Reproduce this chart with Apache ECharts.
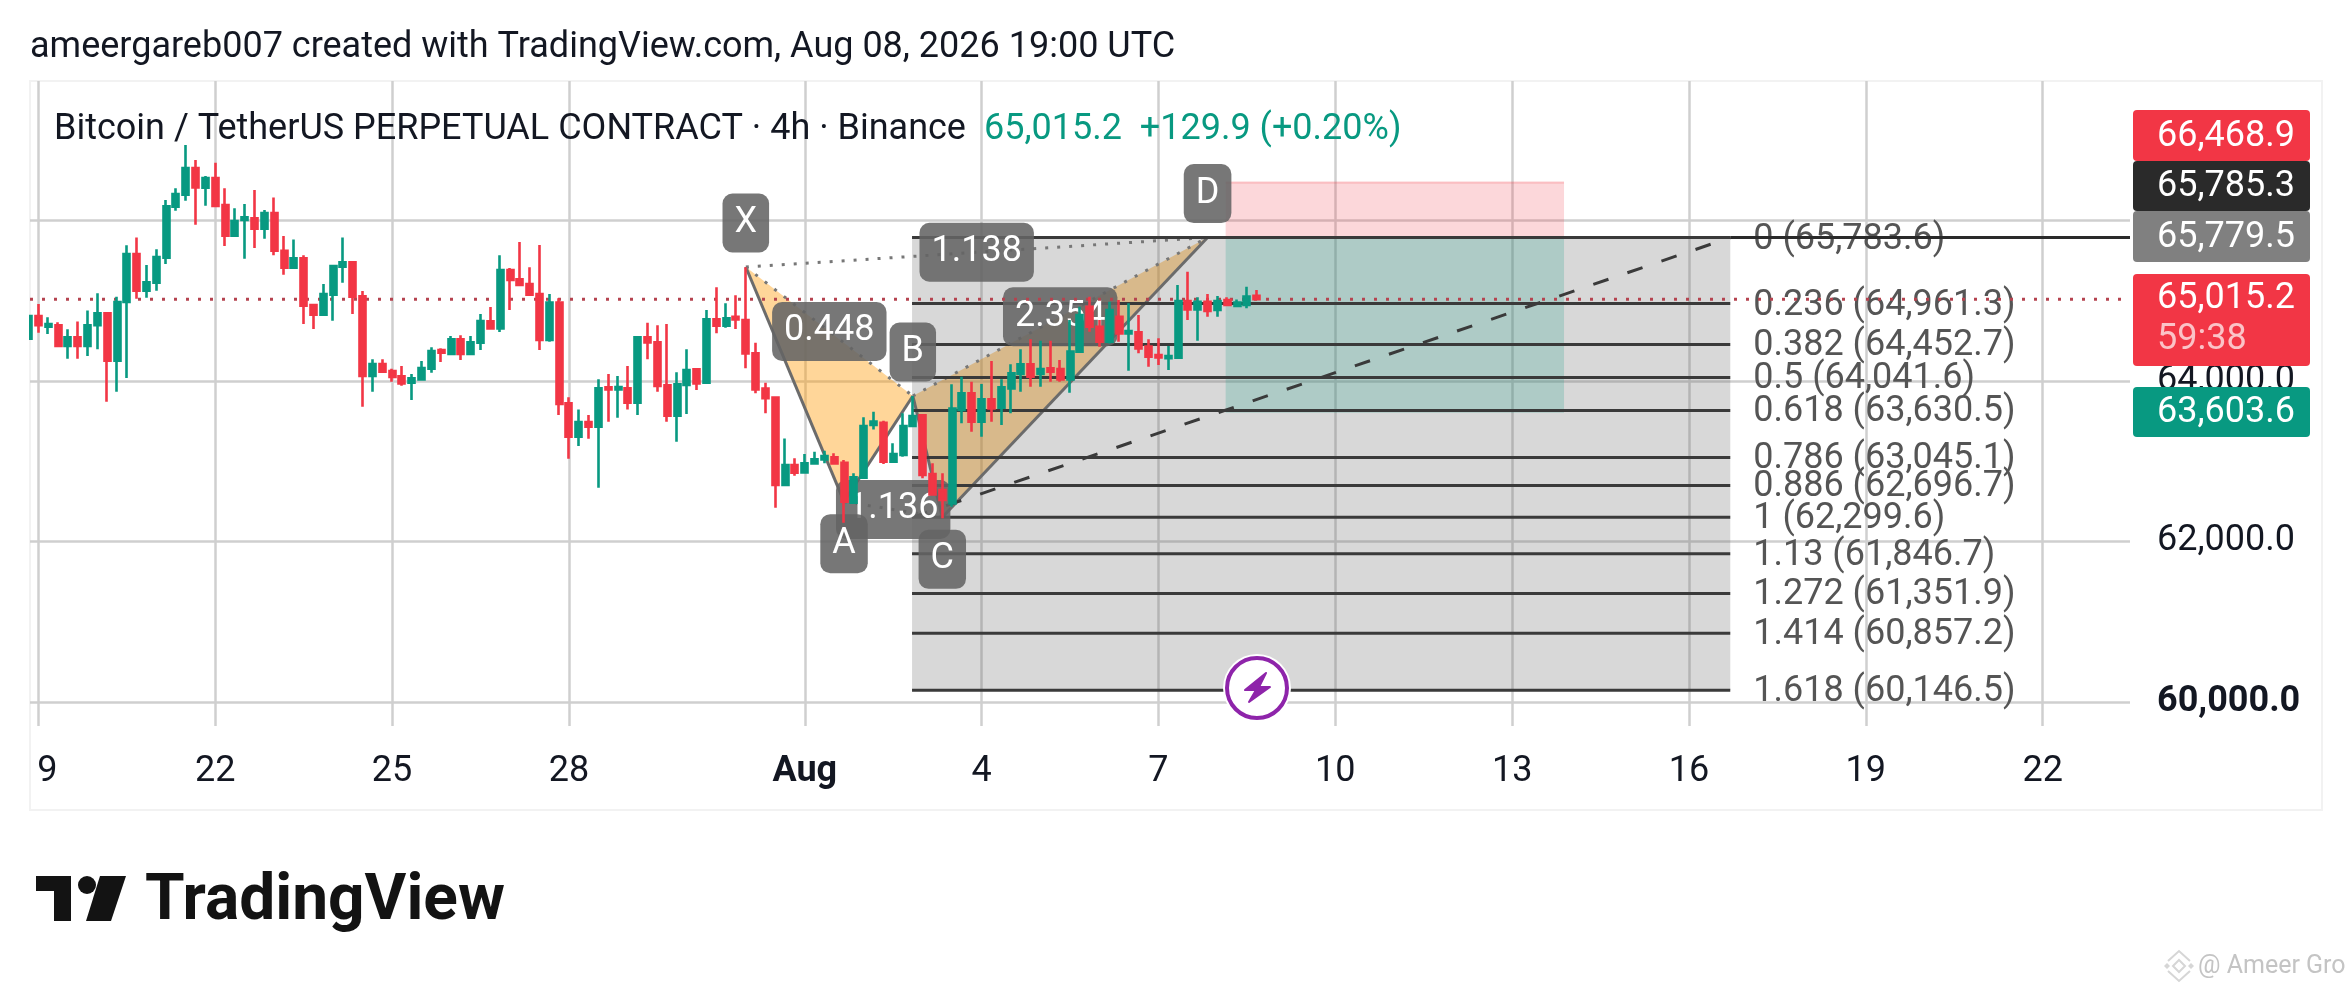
<!DOCTYPE html>
<html><head><meta charset="utf-8">
<style>html,body{margin:0;padding:0;background:#fff}#c{width:2352px;height:990px}</style>
<script src="https://cdn.jsdelivr.net/npm/echarts@6/dist/echarts.min.js"></script>
</head><body><div id="c"></div>
<script>
// 4h bars, index 1 = 19 Jul 00:00
const opens = [64524,64807,64674,64691,64433,64541,64433,64691,64840,64250,64981,65579,65122,65222,65533,66168,66318,66650,66405,66525,66189,65807,66002,66023,65894,66089,65620,65409,65525,64944,64823,65072,65421,65475,65052,64060,64209,64122,64055,63976,64018,64151,64383,64334,64516,64334,64475,64740,64653,65380,65263,65205,65081,64508,64973,63719,63304,63487,63429,63918,63893,63906,63727,64541,64479,63943,63566,63947,64143,63977,64765,64686,64798,64757,64342,63902,63790,62702,62951,62860,62972,63022,63047,62980,62482,62793,63449,63478,62993,63076,63437,63570,62839,62640,62474,63636,63844,63491,63769,63665,63906,64084,64205,64084,64155,64147,64018,64363,64923,64674,64487,64798,64591,64603,64425,64321,64280,64288,64994,64890,64985,64882,65006,64931,64944,65060];
const closes = [64807,64691,64707,64433,64541,64433,64691,64840,64250,64981,65579,65122,65226,65541,66172,66326,66650,66409,66525,66177,65807,65990,66035,65894,66089,65620,65409,65525,64935,64823,65081,65429,65475,65047,64060,64209,64114,64047,63968,64030,64159,64371,64350,64516,64334,64479,64744,64653,65380,65255,65193,65072,64508,64973,63711,63304,63487,63429,63906,63893,63923,63727,64541,64479,63935,63566,63956,64134,63968,64765,64686,64778,64765,64342,63893,63782,62702,62951,62856,62972,63022,63063,62972,62495,62798,63437,63491,62993,63088,63437,63561,62827,62586,62515,63653,63844,63491,63769,63657,63919,64093,64205,64051,64147,64114,64018,64363,64819,64674,64487,64882,64591,64620,64404,64300,64292,64309,64994,64890,64985,64869,64994,64944,64973,65048,65015];
const lows = [64524,64599,64583,64425,64275,64275,64309,64392,63740,63864,64035,65023,65035,65122,65454,66118,66243,65944,66181,66160,65678,65807,65521,65654,65770,65562,65321,65396,64707,64645,64819,64749,65222,64832,63678,63864,64114,63989,63939,63761,64010,64101,64234,64321,64259,64325,64383,64649,64607,64881,65193,65068,64383,64487,63574,63030,63188,63279,62669,63491,63541,63644,63574,64267,63864,63491,63242,63586,63885,63968,64591,64662,64645,64155,63844,63595,62420,62702,62818,62856,62972,62972,62964,62233,62474,62785,63395,62964,62980,63055,63429,62785,62578,62287,62432,63470,63366,63304,63491,63449,63595,63865,63927,63927,63989,63989,63852,64350,64612,64425,64466,64487,64126,64342,64176,64197,64134,64280,64757,64500,64798,64798,64936,64923,64902,65006];
const highs = [64807,64956,64790,64728,64641,64740,64877,65089,64840,65048,65687,65786,65442,65637,66251,66397,66936,66749,66550,66716,66397,66148,66201,66376,66127,66284,65803,65761,65562,64944,65205,65438,65786,65475,65118,64267,64267,64151,64184,64084,64246,64417,64404,64558,64566,64558,64832,64919,65562,65404,65728,65413,65691,65081,65027,63794,63644,63574,64018,64084,64060,64184,64549,64724,64691,64707,64105,64392,64155,64881,65164,64965,65064,65413,64475,63977,63802,63283,63034,63088,63117,63130,63097,63014,62848,63545,63615,63503,63221,63595,63811,63586,62972,62848,63956,64051,63989,63960,64246,64018,64205,64392,64516,64500,64500,64259,64757,64923,65048,64757,64985,65006,64965,64819,64516,64529,64433,65193,65359,65039,65081,65056,65039,65014,65172,65131];

const tickDays = [0,3,6,9,13,16,19,22,25,28,31,34];
const tickLabels = ['9','22','25','28','Aug','4','7','10','13','16','19','22'];
const priceTicks = [60000,62000,64000,66000];
const priceLabels = [60000,62000,64000];
const lastPrice = 65015.2;

const fibRatios = ['0','0.236','0.382','0.5','0.618','0.786','0.886','1','1.13','1.272','1.414','1.618'];
const fibPrices = [65783.6,64961.3,64452.7,64041.6,63630.5,63045.1,62696.7,62299.6,61846.7,61351.9,60857.2,60146.5];

const patternNames = ['X','A','B','C','D'];
const patternBars = [73,83,90,93,120];
const patternPrices = [65417,62495,63811,62299.6,65783.6];
const ratioTexts = ['0.448','1.136','2.354','1.138'];
const ratioPairs = [[0,2],[1,3],[2,4],[0,4]];

const positionTop = 66468.9, positionEntry = 65785.3, positionBottom = 63603.6;

const GREEN='#089981', RED='#F23645', F='Roboto, sans-serif', FS=36;
const dayOfBar = i => (i-1)/6;
const pxDay = 58.95, day0 = 38.4;
const xMin = (30-day0)/pxDay, xMax = (2130-day0)/pxDay;
const pxPrice = 0.0803;
const yMin = 60000-(726-702)/pxPrice, yMax = 60000+(702-81)/pxPrice;
const boxStart = 14.82, boxEnd = 28.70, fibTextDay = 29.09, posStart = 20.14, posEnd = 25.88;
const money = v => v.toLocaleString('en-US',{minimumFractionDigits:1,maximumFractionDigits:1});

const candleData = opens.map((o,i)=>[dayOfBar(i),o,closes[i],lows[i],highs[i]]);
const pt = i => [dayOfBar(patternBars[i]),patternPrices[i]];

function rectSeries(name,x0,x1,y0,y1,fill,z){
  return {type:'custom',name,z,silent:true,clip:true,data:[[x0,y0,x1,y1]],
    renderItem:(p,api)=>{const a=api.coord([api.value(0),api.value(3)]),b=api.coord([api.value(2),api.value(1)]);
      return {type:'rect',shape:{x:a[0],y:a[1],width:b[0]-a[0],height:b[1]-a[1]},style:{fill}};}};
}
function polySeries(pts,fill,z){
  return {type:'custom',z,silent:true,data:[pts.flat()],
    renderItem:(p,api)=>({type:'polygon',shape:{points:[0,1,2].map(k=>api.coord([api.value(k*2),api.value(k*2+1)]))},style:{fill}})};
}
function lineSeries(pts,color,width,type,z){
  return {type:'line',data:pts,z,symbol:'none',silent:true,lineStyle:{color,width,type,cap:'butt'},animation:false};
}
const badge = {show:true,color:'#fff',fontFamily:F,fontSize:FS,backgroundColor:'rgba(100,100,100,0.88)',borderRadius:10,position:'inside',align:'center',verticalAlign:'middle',lineHeight:59,height:59,padding:[0,12]};

const series = [
  polySeries([pt(0),pt(1),pt(2)],'rgba(255,152,0,0.4)',1),
  polySeries([pt(2),pt(3),pt(4)],'rgba(255,152,0,0.4)',1),
  rectSeries('fib',boxStart,boxEnd,fibPrices[11],fibPrices[0],'rgba(100,100,100,0.25)',2),
  rectSeries('stop',posStart,posEnd,positionEntry,positionTop,'rgba(242,54,69,0.2)',3),
  rectSeries('target',posStart,posEnd,positionBottom,positionEntry,'rgba(8,153,129,0.2)',3),
  lineSeries([[posStart,positionTop],[posEnd,positionTop]],'rgba(242,54,69,0.25)',2,'solid',3),
  lineSeries([pt(0),pt(1)],'#6b6b6b',3,'solid',4),
  lineSeries([pt(1),pt(2)],'#6b6b6b',3,'solid',4),
  lineSeries([pt(2),pt(3)],'#6b6b6b',3,'solid',4),
  lineSeries([pt(3),pt(4)],'#6b6b6b',3,'solid',4),
  lineSeries([pt(0),pt(2)],'#777',3,[3,9],4),
  lineSeries([pt(1),pt(3)],'#777',3,[3,9],4),
  lineSeries([pt(2),pt(4)],'#777',3,[3,9],4),
  lineSeries([pt(0),pt(4)],'#777',3,[3,9],4),
  lineSeries([[boxStart,fibPrices[7]],[boxEnd,fibPrices[0]]],'#3a3a3a',3,[16,20],4),
  ...fibPrices.map(p=>lineSeries([[boxStart,p],[boxEnd,p]],'#3a3a3a',3,'solid',4)),
  lineSeries([[boxEnd,positionEntry],[xMax,positionEntry]],'#2a2a2a',3,'solid',7),
  lineSeries([[xMin,lastPrice],[xMax,lastPrice]],'#b5434f',3,[3,9],9),
  {type:'scatter',z:5,symbolSize:0,silent:true,itemStyle:{opacity:1},
    data:fibPrices.map((p,i)=>({value:[fibTextDay,p],label:{formatter:fibRatios[i]+' ('+money(p)+')'}})),
    label:{show:true,position:'right',distance:0,offset:[0,2],color:'#555',fontFamily:F,fontSize:FS}},
  {type:'scatter',z:6,symbolSize:0,silent:true,itemStyle:{opacity:1},
    data:ratioTexts.map((t,i)=>{const a=pt(ratioPairs[i][0]),b=pt(ratioPairs[i][1]);
      return {value:[(a[0]+b[0])/2,(a[1]+b[1])/2],label:{formatter:t}};}),
    label:badge},
  {type:'scatter',z:6,symbolSize:0,silent:true,itemStyle:{opacity:1},
    data:patternNames.map((t,i)=>({value:pt(i),label:{formatter:t,offset:[0,(i==1||i==3)?42:-44]}})),
    label:badge},
  {type:'candlestick',z:10,data:candleData,barWidth:6.5,encode:{x:0,y:[1,2,3,4]},
    itemStyle:{color:GREEN,color0:RED,borderColor:GREEN,borderColor0:RED,borderWidth:2.6}}
];

const txt=(x,y,text,fill,size,extra={})=>({type:'text',x,y,z:50,style:{text,fill,font:(extra.weight||'400')+' '+size+'px '+F,textVerticalAlign:'middle',textAlign:extra.align||'left'}});
const tag=(y0,y1,fill,lines)=>[
  {type:'rect',z:40,shape:{x:2133,y:y0,width:177,height:y1-y0,r:4},style:{fill}},
  ...lines.map(l=>txt(2157,l[1],l[0],l[2]||'#fff',FS))
];
const wm='#d6d6d6';
const graphic=[
  {type:'rect',z:30,shape:{x:0,y:81,width:29,height:645},style:{fill:'#fff'}},
  {type:'rect',z:-1,shape:{x:30,y:81,width:2292,height:729},style:{fill:'none',stroke:'#f2f2f2',lineWidth:2}},
  txt(30,48,'ameergareb007 created with TradingView.com, Aug 08, 2026 19:00 UTC','#131722',FS),
  txt(54,130,'Bitcoin / TetherUS PERPETUAL CONTRACT · 4h · Binance','#131722',FS),
  txt(984,130,'65,015.2  +129.9 (+0.20%)',GREEN,FS),
  ...tag(110,161,RED,[['66,468.9',137]]),
  ...tag(161,211,'#2a2a2a',[['65,785.3',187]]),
  ...tag(211,262,'#808080',[['65,779.5',238]]),
  ...tag(274,366,RED,[['65,015.2',299],['59:38',340,'rgba(255,255,255,0.7)']]),
  ...tag(387,437,GREEN,[['63,603.6',413]]),
  {type:'circle',z:45,shape:{cx:1257,cy:688,r:34},style:{fill:'#fff'}},
  {type:'circle',z:46,shape:{cx:1257,cy:688,r:30},style:{fill:'#fff',stroke:'#8e24aa',lineWidth:4}},
  {type:'polygon',z:47,shape:{points:[[1266,673],[1245,690],[1256,690],[1249,702],[1270,687],[1259,687]]},style:{fill:'#8e24aa',stroke:'#8e24aa',lineWidth:2,lineJoin:'round'}},
  {type:'polygon',z:50,shape:{points:[[36,876],[71,876],[71,921],[54,921],[54,891],[36,891]]},style:{fill:'#131313'}},
  {type:'circle',z:50,shape:{cx:87,cy:885,r:9},style:{fill:'#131313'}},
  {type:'polygon',z:50,shape:{points:[[100,876],[126,876],[111,921],[86,921]]},style:{fill:'#131313'}},
  txt(145,903,'TradingView','#131313',64,{weight:'700'}),
  txt(2198,967,'@ Ameer Gro','#c4c4c4',25),
  {type:'polygon',z:50,shape:{points:[[2179,960],[2185,966],[2179,972],[2173,966]]},style:{fill:'none',stroke:wm,lineWidth:2}},
  {type:'polyline',z:50,shape:{points:[[2168,961],[2179,951],[2190,961]]},style:{fill:'none',stroke:wm,lineWidth:2}},
  {type:'polyline',z:50,shape:{points:[[2168,971],[2179,981],[2190,971]]},style:{fill:'none',stroke:wm,lineWidth:2}},
  {type:'polygon',z:50,shape:{points:[[2167,963],[2170,966],[2167,969],[2164,966]]},style:{fill:wm}},
  {type:'polygon',z:50,shape:{points:[[2191,963],[2194,966],[2191,969],[2188,966]]},style:{fill:wm}}
];

const chart=echarts.init(document.getElementById('c'));
chart.setOption({
  animation:false,backgroundColor:'#fff',
  grid:{left:30,top:81,width:2100,height:645,containLabel:false},
  xAxis:{type:'value',min:xMin,max:xMax,
    axisLine:{show:false},
    axisTick:{show:false,customValues:tickDays},
    axisLabel:{customValues:tickDays,margin:28,color:'#131722',fontFamily:F,fontSize:FS,
      formatter:v=>{const l=tickLabels[tickDays.indexOf(v)];return l==='Aug'?'{b|Aug}':(v===0?'{s|9}':l);},
      rich:{b:{fontWeight:'bold',fontFamily:F,fontSize:FS,color:'#131722'},s:{padding:[0,0,0,18],fontFamily:F,fontSize:FS,color:'#131722'}}},
    splitLine:{show:true,lineStyle:{color:'#cfcfcf',width:2.5}}},
  yAxis:{type:'value',position:'right',min:yMin,max:yMax,
    axisLine:{show:false},
    axisTick:{show:false,customValues:priceTicks},
    axisLabel:{customValues:priceLabels,margin:27,color:'#131722',fontFamily:F,fontSize:FS,
      formatter:v=>v===60000?'{b|'+money(v)+'}':money(v),
      rich:{b:{fontWeight:'bold',fontFamily:F,fontSize:FS,color:'#131722'}}},
    splitLine:{show:true,lineStyle:{color:'#cfcfcf',width:2.5}}},
  series,graphic
});
</script></body></html>
